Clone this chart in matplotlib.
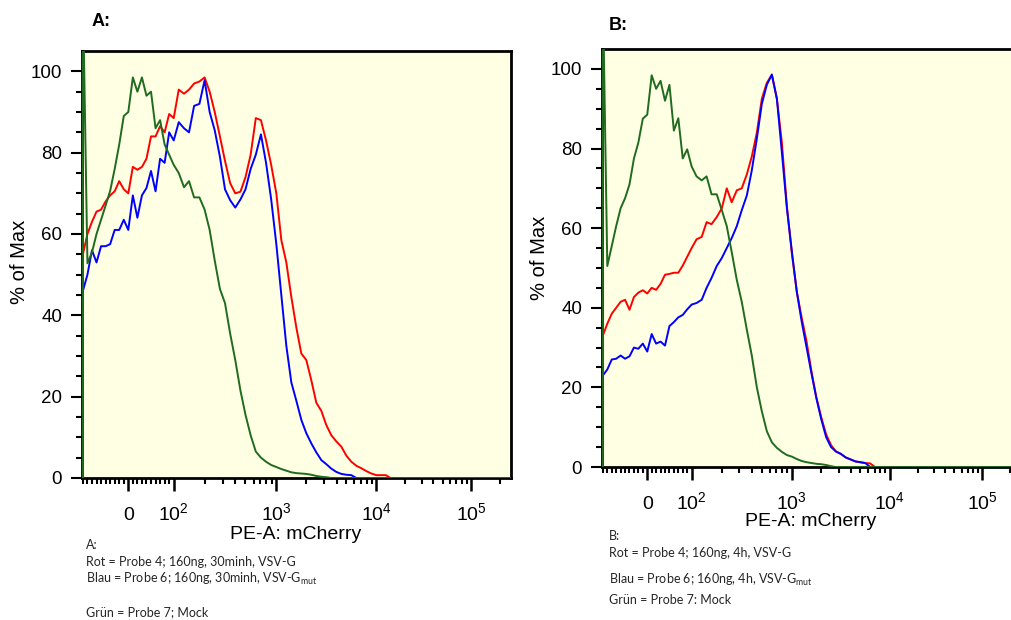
import numpy as np
import matplotlib
matplotlib.use('Agg')
import matplotlib.pyplot as plt

plt.rcParams['font.family'] = ['Liberation Sans', 'DejaVu Sans']
plt.rcParams['mathtext.fontset'] = 'custom'
plt.rcParams['mathtext.rm'] = 'Liberation Sans'
plt.rcParams['mathtext.it'] = 'Liberation Sans:italic'
plt.rcParams['mathtext.bf'] = 'Liberation Sans:bold'

# PE-A channel bins (linear around zero, 20 bins per decade above 100)
pe_bins = [-100, -90, -80, -70, -60, -50, -40, -30, -20, -10, 0,
           10, 20, 30, 40, 50, 60, 70, 80, 90, 100,
           112, 126, 141, 158, 178, 200, 224, 251, 282, 316,
           355, 398, 447, 501, 562, 631, 708, 794, 891, 1000,
           1122, 1259, 1413, 1585, 1778, 1995, 2239, 2512, 2818, 3162,
           3548, 3981, 4467, 5012, 5623, 6310, 7079, 7943, 8913, 10000,
           11220, 12589, 14125, 15849, 262144]

# A: 30 min
red_a = [55, 60, 63, 65.5, 66, 68, 69.5, 70.5, 73, 71, 70,
         76.5, 75.8, 76.5, 78.5, 84, 84, 86.5, 85, 89.5, 88.5,
         95.5, 94.5, 95.5, 97, 97.5, 98.5, 95, 90, 84, 78,
         72.5, 70, 70.4, 74, 79.5, 88.5, 88, 83, 77, 70,
         58.5, 53, 44.5, 37, 30.6, 29, 24, 18.5, 16.5, 13,
         10.5, 9, 7.7, 5.5, 4, 3, 2.4, 1.7, 1.1, 0.7,
         0.7, 0.7, 0, 0, 0]
blue_a = [46, 50, 56, 53, 57, 57, 57.5, 61, 61, 63.5, 61,
          69.5, 64, 69.5, 71.3, 75.5, 70.5, 78.5, 77.5, 85, 83,
          87.5, 86, 85, 91.5, 92, 97.8, 90, 85.5, 79, 71,
          68.3, 66.5, 68.5, 71, 76, 79.5, 84.5, 77.5, 68.5, 57.5,
          45, 32.5, 23.5, 19, 14.3, 11, 8.5, 6.3, 4.4, 3.4,
          2.3, 1.5, 1.0, 0.8, 0.7, 0, 0, 0, 0, 0,
          0, 0, 0, 0, 0]
green_a = [120, 52.8, 55.5, 60, 63.5, 67, 70.6, 76, 82, 89, 90,
           98.5, 95, 98.5, 94, 95, 86, 88, 82, 79.5, 77,
           75, 71.5, 73, 69, 69, 66, 61, 53.5, 46.5, 43,
           35.5, 29, 21.5, 15.5, 10.5, 6.5, 5, 4, 3.2, 2.7,
           2.2, 1.8, 1.4, 1.2, 1.1, 1.0, 0.8, 0.5, 0.3, 0.2,
           0, 0, 0, 0, 0, 0, 0, 0, 0, 0,
           0, 0, 0, 0, 0]

# B: 4 h
red_b = [33, 36, 38.5, 40, 41.5, 42, 39.5, 42.7, 43.8, 44.4, 43.6,
         45, 44.5, 46, 48.3, 48.5, 48.8, 48.8, 50.6, 52.8, 55,
         57.2, 57.8, 61.5, 61, 62.8, 65, 70, 66.5, 69.5, 70,
         73.5, 78, 84, 92.5, 96.5, 98.5, 92.5, 81.5, 65.5, 53.5,
         44, 37.5, 31.5, 24, 17.5, 12.5, 8.2, 5.5, 3.9, 3.3,
         2.4, 1.9, 1.4, 1.2, 1.0, 0.9, 0, 0, 0, 0,
         0, 0, 0, 0, 0]
blue_b = [23, 24.5, 27, 27.2, 28, 27.2, 27.8, 30, 29.7, 31, 29,
          33.4, 31, 31.5, 30.5, 35.4, 36.4, 37.6, 38.2, 39.6, 40.8,
          41.2, 42, 45, 47.5, 50.5, 52.5, 55, 57.5, 60.5, 64.5,
          68.2, 74.5, 82.5, 91.2, 96, 98.6, 92.5, 79, 65, 54,
          44, 36.5, 30, 23.5, 17.3, 12, 7.5, 5, 3.9, 3.3,
          2.4, 1.9, 1.4, 1.2, 1.0, 0, 0, 0, 0, 0,
          0, 0, 0, 0, 0]
green_b = [120, 50.5, 55.5, 60.5, 65, 67.5, 71, 77.5, 81.5, 87.5, 88.5,
           98.4, 95, 97, 92, 96, 84.5, 87.6, 77.5, 79.8, 75.5,
           73, 72, 73, 68.5, 68.5, 64.5, 60.5, 54, 47, 41.5,
           34.5, 28, 20, 14, 9, 6.2, 4.8, 3.8, 3, 2.6,
           2, 1.5, 1.2, 1.0, 0.8, 0.7, 0.5, 0.2, 0, 0,
           0, 0, 0, 0, 0, 0, 0, 0, 0, 0,
           0, 0, 0, 0, 0]

major_ticks = [0, 100, 1000, 10000, 100000]
major_labels = ['0', r'$\mathregular{10^2}$', r'$\mathregular{10^3}$',
                r'$\mathregular{10^4}$', r'$\mathregular{10^5}$']
minor_ticks = ([-v for v in range(10, 101, 10)] + list(range(10, 100, 10))
               + [m * 10 ** e for e in (2, 3, 4) for m in range(2, 10)]
               + [200000])

captions_a = ['A:',
              'Rot = Probe 4; 160ng, 30minh, VSV-G',
              r'Blau = Probe 6; 160ng, 30minh, VSV-G$_{\mathregular{mut}}$',
              'Grün = Probe 7; Mock']
captions_b = ['B:',
              'Rot = Probe 4; 160ng, 4h, VSV-G',
              r'Blau = Probe 6; 160ng, 4h, VSV-G$_{\mathregular{mut}}$',
              'Grün = Probe 7: Mock']


# biexponential-like display: linear up to 100, log above
LIN_DEC = 0.45
U_KNOTS = np.array([-10.0, 0.0, 0.45, 1.45, 2.45, 3.45, 10.0])
D_KNOTS = np.array([-1008.9, 0.0, 45.4, 148.0, 248.0, 342.7, 963.0])


def _to_u(x):
    x = np.asarray(x, dtype=float)
    a = np.abs(x)
    log_part = LIN_DEC + np.log10(np.maximum(a, 100.0) / 100.0)
    return np.where(a <= 100, x / 100.0 * LIN_DEC, np.sign(x) * log_part)


def _from_u(u):
    u = np.asarray(u, dtype=float)
    a = np.abs(u)
    return np.where(a <= LIN_DEC, u / LIN_DEC * 100.0,
                    np.sign(u) * 100.0 * 10 ** (np.maximum(a, LIN_DEC) - LIN_DEC))


def biex_fwd(x):
    return np.interp(_to_u(x), U_KNOTS, D_KNOTS)


def biex_inv(d):
    return _from_u(np.interp(d, D_KNOTS, U_KNOTS))


def draw_panel(ax, red, blue, green):
    ax.set_facecolor('#FFFFE4')
    ax.set_xscale('function', functions=(biex_fwd, biex_inv))
    # outline starts on the baseline like a histogram polygon
    xs = np.r_[pe_bins[0], pe_bins]
    for vals, col in ((red, '#FF0000'), (blue, '#0000FF'), (green, '#1F6B1F')):
        ax.plot(xs, np.r_[0, vals], color=col, lw=1.4, zorder=3)
    ax.set_xlim(-103, 262144)
    ax.set_ylim(0, 105)
    ax.set_xticks(major_ticks, major_labels)
    ax.set_xticks(minor_ticks, minor=True)
    ax.set_yticks(range(0, 101, 20))
    ax.set_yticks(range(0, 101, 5), minor=True)
    for s in ax.spines.values():
        s.set_linewidth(2.0)
    ax.tick_params(axis='x', which='major', direction='out', length=9.5,
                   width=1.8, pad=21, labelsize=14)
    ax.tick_params(axis='x', which='minor', direction='out', length=4.5, width=1.5)
    ax.tick_params(axis='y', which='major', direction='out', length=8,
                   width=1.5, pad=6, labelsize=13.5)
    ax.tick_params(axis='y', which='minor', direction='out', length=4, width=1.5)
    plt.setp(ax.get_xticklabels(), va='baseline')
    ax.set_xlabel('PE-A: mCherry', fontsize=14, va='center')
    ax.set_ylabel('% of Max', fontsize=14.5, va='center')


fig = plt.figure(figsize=(10.11, 6.2), dpi=100)
ax_a = fig.add_axes([81.6 / 1011, 1 - 478 / 620, 429.1 / 1011, 427 / 620])
ax_b = fig.add_axes([601.6 / 1011, 1 - 467 / 620, 419.4 / 1011, 418 / 620])

draw_panel(ax_a, red_a, blue_a, green_a)
draw_panel(ax_b, red_b, blue_b, green_b)

ax_a.xaxis.set_label_coords(0.498, -0.133)
ax_b.xaxis.set_label_coords(0.499, -0.131)
ax_a.yaxis.set_label_coords(-0.144, 0.505)
ax_b.yaxis.set_label_coords(-0.147, 0.5)

fig.text(92 / 1011, 1 - 22 / 620, 'A:', fontsize=13, fontweight='bold', va='center')
fig.text(609 / 1011, 1 - 25 / 620, 'B:', fontsize=13, fontweight='bold', va='center')

cap_font = dict(family=['Lato', 'DejaVu Sans'], fontsize=9, color='#262626', va='center')
for txt, y in zip(captions_a, [545, 562, 579, 612]):
    fig.text(86 / 1011, 1 - y / 620, txt, **cap_font)
for txt, y in zip(captions_b, [536, 553, 580, 600]):
    fig.text(609 / 1011, 1 - y / 620, txt, **cap_font)

fig.savefig('out.png', dpi=100, facecolor='white')
